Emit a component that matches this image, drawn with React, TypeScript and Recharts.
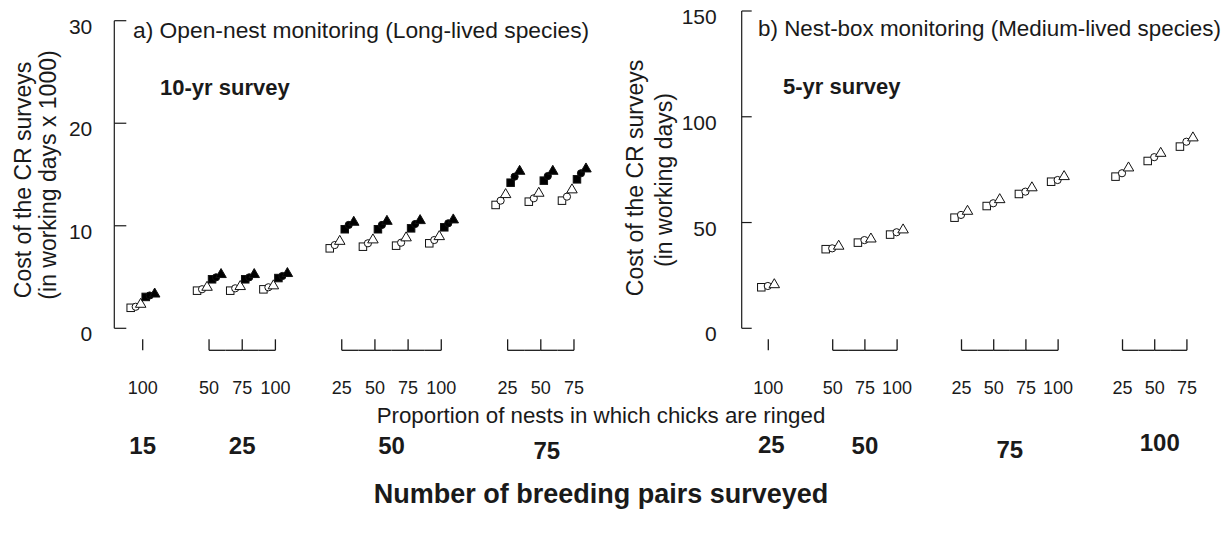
import React from 'react';
import { ScatterChart, Scatter, XAxis, YAxis } from 'recharts';

const FONT = '"Liberation Sans", Arial, Helvetica, sans-serif';
const INK = '#1a1a1a';

// ---------- categories ----------
const pairsA = ['15', '25', '50', '75'];
const pairsB = ['25', '50', '75', '100'];
const proportionsA = [['100'], ['50', '75', '100'], ['25', '50', '75', '100'], ['25', '50', '75']];
const proportionsB = [['100'], ['50', '75', '100'], ['25', '50', '75', '100'], ['25', '50', '75']];

const yTicksA = [0, 10, 20, 30];
const yTicksB = [0, 50, 100, 150];

// ---------- panel a values (working days x 1000) ----------
const aOpenSquare = [2.0, 3.67, 3.67, 3.8, 7.8, 7.96, 8.06, 8.29, 12.03, 12.35, 12.45];
const aOpenCircle = [2.1, 3.81, 3.9, 4.0, 8.12, 8.29, 8.35, 8.61, 12.45, 12.68, 12.84];
const aOpenTriangle = [2.4, 4.06, 4.13, 4.2, 8.54, 8.68, 8.88, 9.0, 13.1, 13.23, 13.56];
const aFilledSquare = [3.06, 4.78, 4.78, 4.9, 9.66, 9.66, 9.75, 9.85, 14.2, 14.4, 14.53];
const aFilledCircle = [3.2, 4.97, 4.97, 5.1, 10.08, 10.08, 10.17, 10.24, 14.79, 14.85, 15.12];
const aFilledTriangle = [3.4, 5.3, 5.3, 5.4, 10.4, 10.49, 10.56, 10.63, 15.37, 15.37, 15.6];

// ---------- panel b values (working days) ----------
const bSquare = [19.4, 37.4, 40.5, 44.3, 52.3, 57.8, 63.5, 69.3, 71.7, 79.1, 85.9];
const bCircle = [20.0, 37.8, 41.7, 45.4, 53.6, 59.1, 64.6, 70.1, 73.3, 80.9, 88.2];
const bTriangle = [20.9, 39.1, 42.5, 46.8, 55.6, 61.1, 66.7, 72.0, 76.1, 83.0, 90.3];

// small label nudges (style only)
const groupNudgeA = [[0, 0], [0, 0], [0, 0], [6, 5]];
const groupNudgeB = [[3, -1], [0, 0], [0, 4], [5, -3]];

type Slot = { pos: number; label: string; group: number; first: boolean; last: boolean; size: number };

function buildSlots(groups: string[][]): Slot[] {
  const out: Slot[] = [];
  let p = 0;
  groups.forEach((g, gi) => {
    g.forEach((lab, i) => {
      out.push({ pos: p + i, label: lab, group: gi, first: i === 0, last: i === g.length - 1, size: g.length });
    });
    p += g.length + 1;
  });
  return out;
}

const slotsA = buildSlots(proportionsA);
const slotsB = buildSlots(proportionsB);

const toData = (slots: Slot[], vals: number[]) => slots.map((s, i) => ({ x: s.pos, y: vals[i] }));

// ---------- marker shapes ----------
function makeShape(kind: 'square' | 'circle' | 'triangle', filled: boolean, dx: number) {
  return (props: any) => {
    const { cx, cy } = props;
    if (cx == null || cy == null) return null;
    const x = cx + dx;
    const fill = filled ? '#000' : '#fff';
    const common = { fill, stroke: '#111', strokeWidth: 1 };
    if (kind === 'square') {
      const s = 7.5;
      return <rect x={x - s / 2} y={cy - s / 2} width={s} height={s} {...common} />;
    }
    if (kind === 'circle') {
      return <circle cx={x} cy={cy} r={3.6} {...common} />;
    }
    const w = 10.5;
    const h = 9;
    const pts = `${x},${cy - h * 0.6} ${x - w / 2},${cy + h * 0.4} ${x + w / 2},${cy + h * 0.4}`;
    return <polygon points={pts} {...common} />;
  };
}

// ---------- axes ticks ----------
function makeYTick(tickLen: number, labelGap: number) {
  return (props: any) => {
    const { x, y, payload } = props;
    return (
      <g>
        <line x1={x} x2={x + tickLen} y1={y} y2={y} stroke={INK} strokeWidth={1.2} />
        <text x={x - labelGap} y={y + 13} textAnchor="end" fontFamily={FONT} fontSize={21} fill={INK}>
          {payload.value}
        </text>
      </g>
    );
  };
}

function makeXTick(slots: Slot[], pairs: string[], nudge: number[][], unit: number) {
  return (props: any) => {
    const { x, y, payload } = props;
    const slot = slots.find((s) => s.pos === payload.value);
    if (!slot) return null;
    const top = y + 11;
    const bot = y + 22;
    const [ndx, ndy] = nudge[slot.group];
    return (
      <g>
        <line x1={x} x2={x} y1={top} y2={bot} stroke={INK} strokeWidth={1.3} />
        {!slot.first && <line x1={x - unit / 2} x2={x} y1={bot} y2={bot} stroke={INK} strokeWidth={1.3} />}
        {!slot.last && <line x1={x} x2={x + unit / 2} y1={bot} y2={bot} stroke={INK} strokeWidth={1.3} />}
        <text x={x} y={y + 66} textAnchor="middle" fontFamily={FONT} fontSize={18} fill={INK}>
          {slot.label}
        </text>
        {slot.first && (
          <text
            x={x + ((slot.size - 1) / 2) * unit + ndx}
            y={y + 126 + ndy}
            textAnchor="middle"
            fontFamily={FONT}
            fontSize={24}
            fontWeight="bold"
            fill={INK}
          >
            {pairs[slot.group]}
          </text>
        )}
      </g>
    );
  };
}

// ---------- geometry ----------
const H = 534;
const PLOT_BOTTOM = 328.3;
const X_AXIS_H = 30;
const Y_AXIS_W = 60;

const A = { left: 0, width: 615, axisX: 114.3, top: 20.7, domain: [-0.856, 13.7] as [number, number], right: 597.2 };
const B = { left: 615, width: 616, axisX: 741.7, top: 11, domain: [-0.826, 13.9] as [number, number], right: 1215.9 };

const unitA = (A.right - A.axisX) / (A.domain[1] - A.domain[0]);
const unitB = (B.right - B.axisX) / (B.domain[1] - B.domain[0]);

const seriesA = [
  { vals: aOpenSquare, shape: makeShape('square', false, -12) },
  { vals: aOpenCircle, shape: makeShape('circle', false, -7) },
  { vals: aOpenTriangle, shape: makeShape('triangle', false, -2) },
  { vals: aFilledSquare, shape: makeShape('square', true, 3) },
  { vals: aFilledCircle, shape: makeShape('circle', true, 7) },
  { vals: aFilledTriangle, shape: makeShape('triangle', true, 12) },
];

const seriesB = [
  { vals: bSquare, shape: makeShape('square', false, -7) },
  { vals: bCircle, shape: makeShape('circle', false, -0.5) },
  { vals: bTriangle, shape: makeShape('triangle', false, 6) },
];

function Panel(props: {
  g: typeof A;
  slots: Slot[];
  pairs: string[];
  nudge: number[][];
  unit: number;
  yDomain: [number, number];
  yTicks: number[];
  tickLen: number;
  labelGap: number;
  series: { vals: number[]; shape: any }[];
}) {
  const { g, slots, pairs, unit, yDomain, yTicks, series } = props;
  const margin = {
    top: g.top,
    left: g.axisX - g.left - Y_AXIS_W,
    right: g.left + g.width - g.right,
    bottom: H - PLOT_BOTTOM - X_AXIS_H,
  };
  return (
    <div style={{ position: 'absolute', left: g.left, top: 0 }}>
      <ScatterChart width={g.width} height={H} margin={margin}>
        <XAxis
          type="number"
          dataKey="x"
          domain={g.domain}
          ticks={slots.map((s) => s.pos)}
          interval={0}
          allowDataOverflow
          axisLine={false}
          tickLine={false}
          tickSize={0}
          tickMargin={0}
          height={X_AXIS_H}
          tick={makeXTick(slots, pairs, props.nudge, unit)}
        />
        <YAxis
          type="number"
          dataKey="y"
          domain={yDomain}
          ticks={yTicks}
          interval={0}
          width={Y_AXIS_W}
          axisLine={{ stroke: INK, strokeWidth: 1.2 }}
          tickLine={false}
          tickSize={0}
          tickMargin={0}
          tick={makeYTick(props.tickLen, props.labelGap)}
        />
        {series.map((s, i) => (
          <Scatter key={i} data={toData(slots, s.vals)} shape={s.shape} isAnimationActive={false} />
        ))}
      </ScatterChart>
    </div>
  );
}

export default function App() {
  return (
    <div style={{ position: 'absolute', left: 0, top: 0, width: 1231, height: H, background: '#fff', fontFamily: FONT }}>
      <Panel g={A} slots={slotsA} pairs={pairsA} nudge={groupNudgeA} unit={unitA} yDomain={[0, 30]} yTicks={yTicksA} tickLen={12} labelGap={22} series={seriesA} />
      <Panel g={B} slots={slotsB} pairs={pairsB} nudge={groupNudgeB} unit={unitB} yDomain={[0, 150]} yTicks={yTicksB} tickLen={10} labelGap={25} series={seriesB} />
      <svg width={1231} height={H} style={{ position: 'absolute', left: 0, top: 0, pointerEvents: 'none' }}>
        <g fontFamily={FONT} fill={INK}>
          <text transform="translate(23,180) rotate(-90)" textAnchor="middle" dominantBaseline="central" fontSize={23}>
            Cost of the CR surveys
          </text>
          <text transform="translate(48,175) rotate(-90)" textAnchor="middle" dominantBaseline="central" fontSize={23}>
            (in working days x 1000)
          </text>
          <text transform="translate(635,178) rotate(-90)" textAnchor="middle" dominantBaseline="central" fontSize={23}>
            Cost of the CR surveys
          </text>
          <text transform="translate(664,180) rotate(-90)" textAnchor="middle" dominantBaseline="central" fontSize={23}>
            (in working days)
          </text>
          <text x={133} y={38} fontSize={22.8}>a) Open-nest monitoring (Long-lived species)</text>
          <text x={758} y={36} fontSize={22.4}>b) Nest-box monitoring (Medium-lived species)</text>
          <text x={160} y={95} fontSize={22} fontWeight="bold">10-yr survey</text>
          <text x={783} y={94} fontSize={22} fontWeight="bold">5-yr survey</text>
          <text x={601} y={423} textAnchor="middle" fontSize={22.3}>
            Proportion of nests in which chicks are ringed
          </text>
          <text x={601} y={503} textAnchor="middle" fontSize={27} fontWeight="bold">
            Number of breeding pairs surveyed
          </text>
        </g>
      </svg>
    </div>
  );
}
